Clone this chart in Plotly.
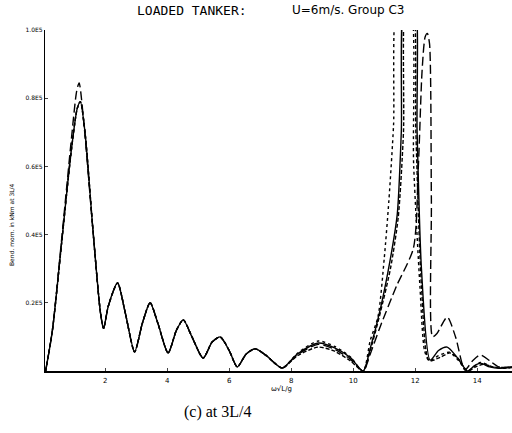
import plotly.graph_objects as go

# ---- data (bending moment, units of 1E5) ----
x_solid = [0.08, 0.3, 0.6, 0.9, 1.1, 1.2, 1.35, 1.6, 1.85, 1.95, 2.1, 2.4, 2.65, 2.95, 3.2, 3.45, 3.7,
           4.03, 4.3, 4.52, 4.8, 5.16, 5.45, 5.71, 6.0, 6.26, 6.55, 6.84, 7.2, 7.71, 8.2, 8.87, 9.4,
           9.9, 10.32, 10.55, 10.87, 11.2, 11.42, 11.55, 11.68, 11.95, 12.06, 12.2, 12.48, 12.75,
           13.03, 13.35, 13.68, 13.9, 14.1, 14.4, 14.7, 15.13]
y_solid = [0.0, 0.12, 0.38, 0.64, 0.77, 0.79, 0.70, 0.42, 0.17, 0.125, 0.19, 0.258, 0.17, 0.056, 0.14,
           0.20, 0.14, 0.053, 0.12, 0.15, 0.10, 0.038, 0.085, 0.10, 0.06, 0.012, 0.05, 0.065, 0.045,
           0.009, 0.05, 0.082, 0.068, 0.04, 0.0, 0.067, 0.18, 0.33, 0.46, 0.70, 1.10, 1.10, 0.70, 0.30,
           0.032, 0.06, 0.07, 0.04, 0.0, 0.015, 0.023, 0.012, 0.008, 0.012]

x_dash = [0.08, 0.3, 0.6, 0.9, 1.1, 1.2, 1.35, 1.6, 1.85, 1.95, 2.1, 2.4, 2.65, 2.95, 3.2, 3.45, 3.7,
          4.03, 4.3, 4.52, 4.8, 5.16, 5.45, 5.71, 6.0, 6.26, 6.55, 6.84, 7.2, 7.71, 8.2, 8.87, 9.4,
          9.9, 10.32, 10.55, 10.87, 11.2, 11.45, 11.62, 11.72, 11.9, 12.02, 12.2, 12.45, 12.8,
          13.13, 13.4, 13.68, 13.95, 14.2, 14.5, 14.8, 15.13]
y_dash = [0.0, 0.12, 0.38, 0.64, 0.77, 0.79, 0.70, 0.42, 0.17, 0.125, 0.19, 0.258, 0.17, 0.056, 0.14,
          0.20, 0.14, 0.053, 0.12, 0.15, 0.10, 0.038, 0.085, 0.10, 0.06, 0.012, 0.05, 0.065, 0.045,
          0.009, 0.045, 0.07, 0.058, 0.03, 0.0, 0.06, 0.17, 0.30, 0.45, 0.70, 1.10, 1.10, 0.70, 0.25,
          0.03, 0.04, 0.053, 0.035, 0.0, 0.012, 0.02, 0.012, 0.008, 0.01]

x_dot = [0.08, 0.3, 0.6, 0.9, 1.1, 1.2, 1.35, 1.6, 1.85, 1.95, 2.1, 2.4, 2.65, 2.95, 3.2, 3.45, 3.7,
         4.03, 4.3, 4.52, 4.8, 5.16, 5.45, 5.71, 6.0, 6.26, 6.55, 6.84, 7.2, 7.71, 8.2, 8.87, 9.4,
         9.9, 10.32, 10.55, 10.8, 11.0, 11.15, 11.3, 11.45, 11.8, 11.95, 12.15, 12.3, 12.45, 12.75,
         13.1, 13.4, 13.68, 14.1, 14.5, 15.13]
y_dot = [0.0, 0.12, 0.38, 0.64, 0.77, 0.79, 0.70, 0.42, 0.17, 0.125, 0.19, 0.258, 0.17, 0.056, 0.14,
         0.20, 0.14, 0.053, 0.12, 0.15, 0.10, 0.038, 0.085, 0.10, 0.06, 0.012, 0.05, 0.065, 0.045,
         0.009, 0.052, 0.088, 0.072, 0.042, 0.0, 0.09, 0.16, 0.33, 0.50, 0.72, 1.10, 1.10, 0.60,
         0.25, 0.06, 0.03, 0.045, 0.055, 0.03, 0.0, 0.025, 0.012, 0.01]

x_long = [0.08, 0.3, 0.6, 0.9, 1.08, 1.16, 1.3, 1.6, 1.85, 1.95, 2.1, 2.4, 2.65, 2.95, 3.2, 3.45, 3.7,
          4.03, 4.3, 4.52, 4.8, 5.16, 5.45, 5.71, 6.0, 6.26, 6.55, 6.84, 7.2, 7.71, 8.2, 8.87, 9.4,
          9.9, 10.32, 10.55, 10.87, 11.4, 11.94, 12.1, 12.22, 12.32, 12.39, 12.46, 12.52, 12.56,
          12.7, 13.03, 13.3, 13.6, 13.85, 14.1, 14.4, 14.7, 15.13]
y_long = [0.0, 0.12, 0.39, 0.67, 0.82, 0.845, 0.74, 0.42, 0.17, 0.125, 0.19, 0.258, 0.17, 0.056, 0.14,
          0.20, 0.14, 0.053, 0.12, 0.15, 0.10, 0.038, 0.085, 0.10, 0.06, 0.012, 0.05, 0.065, 0.045,
          0.009, 0.048, 0.078, 0.064, 0.035, 0.0, 0.05, 0.13, 0.25, 0.36, 0.60, 0.88, 0.98, 0.99,
          0.96, 0.50, 0.10, 0.11, 0.158, 0.10, 0.003, 0.03, 0.047, 0.03, 0.012, 0.012]

y_tickvals = [0.2, 0.4, 0.6, 0.8, 1.0]
y_ticktext = ["0.2E5", "0.4E5", "0.6E5", "0.8E5", "1.0E5"]
x_tickvals = [2, 4, 6, 8, 10, 12, 14]

fig = go.Figure()
series = [
    (x_solid, y_solid, "solid"),
    (x_dash, y_dash, "4px,2px"),
    (x_dot, y_dot, "dot"),
    (x_long, y_long, "9px,4px"),
]
for xs, ys, dash in series:
    fig.add_trace(go.Scatter(
        x=xs, y=ys, mode="lines",
        line=dict(color="black", width=1.4, dash=dash, shape="spline", smoothing=0.7),
        showlegend=False, hoverinfo="skip", cliponaxis=True,
    ))

fig.update_layout(
    width=512, height=433,
    margin=dict(l=45, r=0, t=30, b=62),
    paper_bgcolor="white", plot_bgcolor="white",
    xaxis=dict(range=[0.06, 15.12], tickvals=x_tickvals, ticks="inside", ticklen=3,
               tickfont=dict(size=7, family="DejaVu Sans", color="black"),
               showgrid=False, zeroline=False, showline=True, linecolor="black", linewidth=1.5,
               ticklabelstandoff=2),
    yaxis=dict(range=[0, 1.0], tickvals=y_tickvals, ticktext=y_ticktext, ticks="inside",
               ticklen=3, tickfont=dict(size=6, family="DejaVu Sans", color="black"),
               showgrid=False, zeroline=False, showline=True, linecolor="black", linewidth=1.2),
    font=dict(color="black"),
)

fig.add_annotation(text="LOADED TANKER:", xref="paper", yref="paper", x=(135 - 45) / 467, y=1.0,
                   yshift=20, xanchor="left", yanchor="middle", showarrow=False,
                   font=dict(family="DejaVu Sans Mono", size=13, color="black"))
fig.add_annotation(text="U=6m/s. Group C3", xref="paper", yref="paper", x=(290 - 45) / 467, y=1.0,
                   yshift=20, xanchor="left", yanchor="middle", showarrow=False,
                   font=dict(family="DejaVu Sans", size=12, color="black"))
fig.add_annotation(text="Bend. mom. in kNm at 3L/4", xref="paper", yref="paper",
                   x=-33 / 467, y=(371 - 225) / 341, textangle=-90, xanchor="center",
                   yanchor="middle", showarrow=False,
                   font=dict(family="DejaVu Sans", size=6, color="black"))
fig.add_annotation(text="ω√L/g", xref="paper", yref="paper", x=(281 - 45) / 467, y=0,
                   yshift=-18, xanchor="center", yanchor="middle", showarrow=False,
                   font=dict(family="DejaVu Sans", size=7, color="black"))
fig.add_annotation(text="(c) at 3L/4", xref="paper", yref="paper", x=(218 - 45) / 467, y=0,
                   yshift=-(412 - 371), xanchor="center", yanchor="middle", showarrow=False,
                   font=dict(family="Liberation Serif", size=16, color="black"))

fig.write_html("out.html")
